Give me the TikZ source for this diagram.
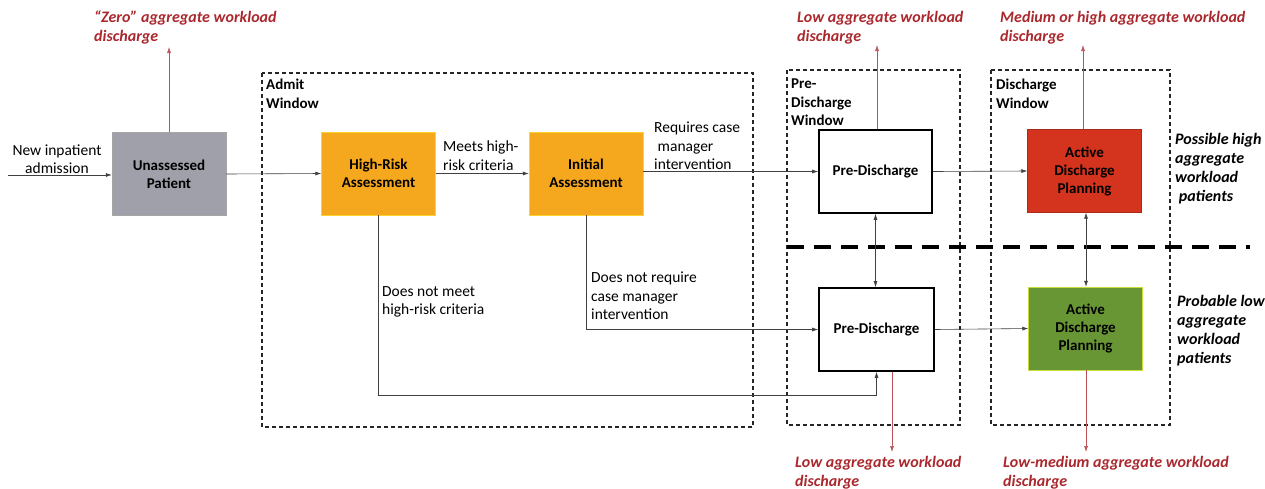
\documentclass[tikz,border=0pt]{standalone}
\usepackage{fontspec}
\setmainfont{Carlito}
\usetikzlibrary{arrows.meta}
\definecolor{grayfill}{RGB}{160,160,170}
\definecolor{orangefill}{RGB}{245,168,30}
\definecolor{orangeedge}{RGB}{255,210,40}
\definecolor{redfill}{RGB}{212,52,30}
\definecolor{greenfill}{RGB}{104,150,52}
\definecolor{greenedge}{RGB}{200,220,60}
\definecolor{labred}{RGB}{170,40,45}
\begin{document}
\begin{tikzpicture}[x=1pt,y=-1pt,
  box/.style={minimum width=114pt,minimum height=83pt,inner sep=0pt,align=center,
    font=\fontsize{15}{18}\selectfont\bfseries},
  whitebox/.style={box,draw=black,line width=1.6pt,fill=white},
  win/.style={draw=black!85,line width=1.4pt,dash pattern=on 4pt off 3pt},
  winlab/.style={anchor=north west,align=left,inner sep=0pt,font=\fontsize{15}{18.5}\selectfont\bfseries},
  txt/.style={anchor=north west,align=left,inner sep=0pt,font=\fontsize{15.5}{18.5}\selectfont},
  redlab/.style={anchor=north west,align=left,inner sep=0pt,text=labred,font=\fontsize{16}{19}\selectfont\bfseries\itshape},
  sidelab/.style={anchor=north west,align=left,inner sep=0pt,font=\fontsize{16}{19}\selectfont\bfseries\itshape},
  arr/.style={draw=black!75,line width=0.6pt,-{Latex[length=6pt,width=4pt]}},
  barr/.style={draw=black!75,line width=0.6pt,{Latex[length=6pt,width=4pt]}-{Latex[length=6pt,width=4pt]}},
  rarr/.style={draw=labred!80,line width=0.6pt,-{Latex[length=6pt,width=4pt]}}
]
\useasboundingbox (0,0) rectangle (1265,488);

% windows
\draw[win] (262,73) rectangle (753,427);
\draw[win] (787,70) rectangle (960,425);
\draw[win] (991,70) rectangle (1170,425);
\node[winlab] (admitlab) at (266,79) {Admit\\Window};
\node[winlab] (prelab) at (791,79) {Pre-\\Discharge\\Window};
\node[winlab] (dislab) at (996,79) {Discharge\\Window};

% divider
\draw[line width=3.5pt,dash pattern=on 17pt off 10pt] (787,247) -- (1250,247);

% boxes
\node[box,fill=grayfill,draw=gray!70] (up) at (169,174) {Unassessed\\Patient};
\node[box,fill=orangefill,draw=orangeedge] (hr) at (378.5,173.5) {High-Risk\\Assessment};
\node[box,fill=orangefill,draw=orangeedge] (ia) at (586,173.5) {Initial\\Assessment};
\node[whitebox,minimum width=113pt] (pd1) at (875.5,171.5) {Pre-Discharge};
\node[whitebox,minimum width=115pt] (pd2) at (876.5,329.5) {Pre-Discharge};
\node[box,fill=redfill,draw=redfill!80!black] (adp1) at (1084.5,171) {Active\\Discharge\\Planning};
\node[box,fill=greenfill,draw=greenedge] (adp2) at (1085.5,328.5) {Active\\Discharge\\Planning};

% free-end coordinates
\coordinate (inA) at (8,175);
\coordinate (zeroT) at (169,47);
\coordinate (lowT) at (877,45);
\coordinate (medT) at (1083,45);
\coordinate (lowB) at (892,452);
\coordinate (lmB) at (1086,452);

% connectors
\draw[arr] (inA) -- (up.west |- inA);
\draw[arr] (up.east) -- (hr.west);
\draw[arr] (hr.east) -- (ia.west);
\draw[arr] (ia.east |- pd1.west) -- (pd1.west);
\draw[arr] (pd1.east) -- (adp1.west);
\draw[arr] (pd2.east) -- (adp2.west);
\draw[arr] (ia.south) |- (pd2.west);
\draw[arr] (hr.south) -- ++(0,180) -| (pd2.south);
\draw[barr] (pd1.south) -- (pd1.south |- pd2.north);
\draw[barr] (adp1.south -| 1086,0) -- (adp2.north -| 1086,0);

% red discharge arrows
\draw[rarr] (up.north) -- (zeroT);
\draw[rarr] (pd1.north -| lowT) -- (lowT);
\draw[rarr] (adp1.north -| medT) -- (medT);
\draw[rarr] (pd2.south -| lowB) -- (lowB);
\draw[rarr] (adp2.south -| lmB) -- (lmB);

% labels
\node[align=center,inner sep=0pt,font=\fontsize{15.5}{18}\selectfont] (newlab) at (57,159) {New inpatient\\admission};
\node[txt] (meets) at (443,141) {Meets high-\\risk criteria};
\node[txt] (req) at (654,122) {Requires case\\\ manager\\intervention};
\node[txt] (notmeet) at (382,286) {Does not meet\\high-risk criteria};
\node[txt] (notreq) at (591,272) {Does not require\\case manager\\intervention};

\node[redlab] (zerolab) at (94,11) {“Zero” aggregate workload\\discharge};
\node[redlab] (lowtlab) at (797,11) {Low aggregate workload\\discharge};
\node[redlab] (medlab) at (1000,11) {Medium or high aggregate workload\\discharge};
\node[redlab] (lowblab) at (795,456) {Low aggregate workload\\discharge};
\node[redlab] (lmlab) at (1003,456) {Low-medium aggregate workload\\discharge};

\node[sidelab] (poss) at (1175,133) {Possible high\\aggregate\\workload\\\ patients};
\node[sidelab] (prob) at (1177,295) {Probable low\\aggregate\\workload\\patients};
\end{tikzpicture}
\end{document}
